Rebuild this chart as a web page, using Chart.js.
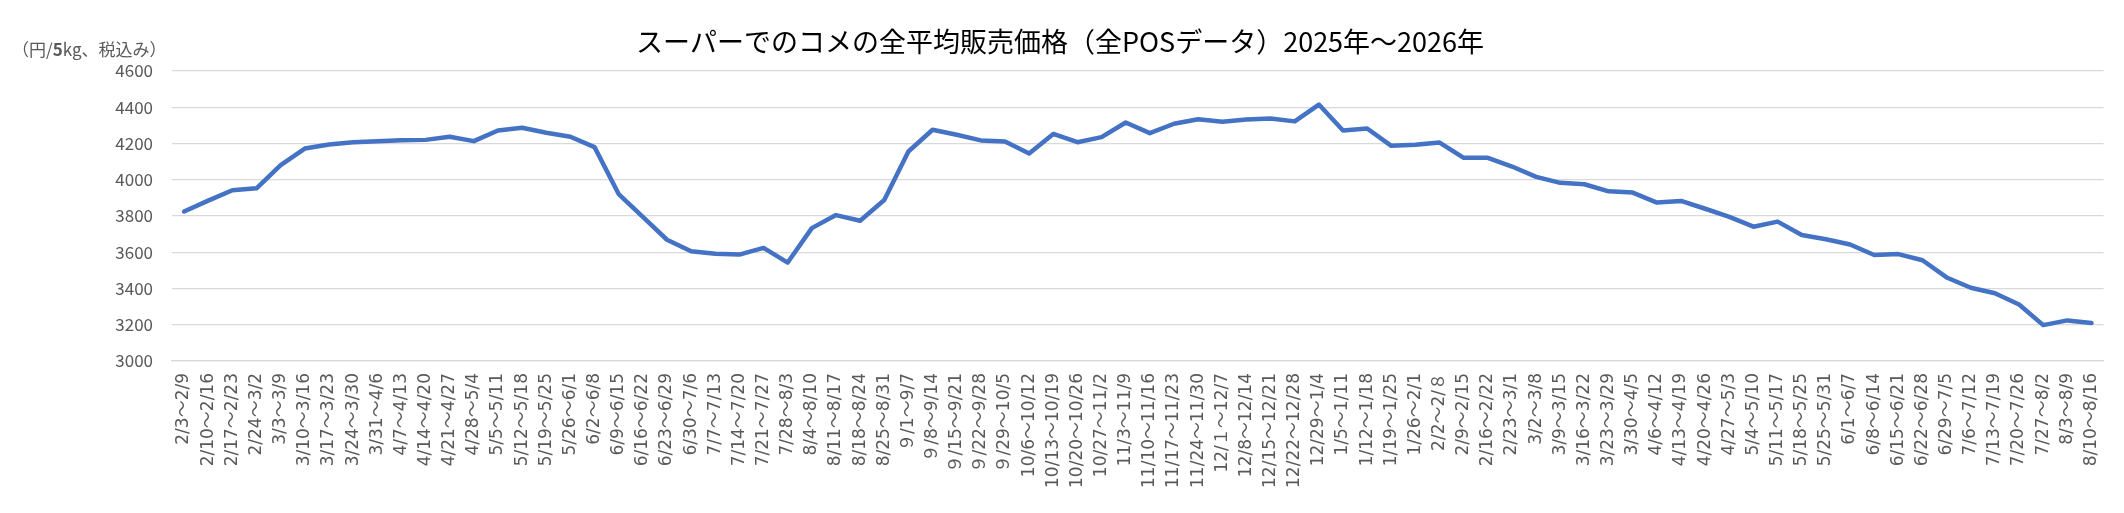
<!DOCTYPE html>
<html>
<head>
<meta charset="utf-8">
<script src="https://cdn.jsdelivr.net/npm/chart.js@4"></script>
<style>
  html, body { margin: 0; padding: 0; background: #ffffff; }
  #wrap { width: 2124px; height: 513px; }
</style>
</head>
<body>
<div id="wrap"><canvas id="c" width="2124" height="513"></canvas></div>
<script>
const titleText = 'スーパーでのコメの全平均販売価格（全POSデータ）2025年～2026年';
const unitParts = ['（円/', '5', 'kg、税込み）'];

const weeks = [
  '2/3～2/9','2/10～2/16','2/17～2/23','2/24～3/2','3/3～3/9','3/10～3/16','3/17～3/23','3/24～3/30',
  '3/31～4/6','4/7～4/13','4/14～4/20','4/21～4/27','4/28～5/4','5/5～5/11','5/12～5/18','5/19～5/25',
  '5/26～6/1','6/2～6/8','6/9～6/15','6/16～6/22','6/23～6/29','6/30～7/6','7/7～7/13','7/14～7/20',
  '7/21～7/27','7/28～8/3','8/4～8/10','8/11～8/17','8/18～8/24','8/25～8/31','９/1～9/7','９/8～9/14',
  '９/15～9/21','９/22～9/28','９/29～10/5','10/6～10/12','10/13～10/19','10/20～10/26','10/27～11/2','11/3～11/9',
  '11/10～11/16','11/17～11/23','11/24～11/30','12/１～12/7','12/8～12/14','12/15～12/21','12/22～12/28','12/29～1/4',
  '1/5～1/11','1/12～1/18','1/19～1/25','1/26～2/1','2/2～2/８','2/9～2/15','2/16～2/22','2/23～3/1',
  '3/2～3/8','3/9～3/15','3/16～3/22','3/23～3/29','3/30～4/5','4/6～4/12','4/13～4/19','4/20～4/26',
  '4/27～5/3','5/4～5/10','5/11～5/17','5/18～5/25','5/25～5/31','6/1～6/7','6/8～6/14','6/15～6/21',
  '6/22～6/28','6/29～7/5','7/6～7/12','7/13～7/19','7/20～7/26','7/27～8/2','8/3～8/9','8/10～8/16'
];

const prices = [
  3825, 3885, 3942, 3953, 4081, 4172, 4194, 4207,
  4213, 4218, 4220, 4237, 4213, 4272, 4287, 4259,
  4237, 4180, 3921, 3795, 3669, 3605, 3592, 3587,
  3624, 3543, 3733, 3805, 3774, 3888, 4156, 4276,
  4248, 4217, 4211, 4145, 4253, 4207, 4235, 4316,
  4257, 4309, 4334, 4320, 4333, 4338, 4322, 4415,
  4272, 4283, 4187, 4193, 4205, 4121, 4121, 4073,
  4016, 3983, 3975, 3936, 3929, 3874, 3883, 3840,
  3795, 3741, 3769, 3695, 3672, 3643, 3585, 3590,
  3556, 3461, 3404, 3374, 3312, 3198, 3224, 3210
];

const yMin = 3000, yMax = 4600, yStep = 200;

const FONT = '"Noto Sans CJK JP", "Noto Sans", sans-serif';
const LABEL_FONT = '"DejaVu Sans", "Noto Sans CJK JP", sans-serif';

const textPlugin = {
  id: 'textPlugin',
  afterDraw(chart) {
    const ctx = chart.ctx;
    ctx.save();
    ctx.fillStyle = '#000000';
    ctx.font = '27px ' + FONT;
    ctx.textAlign = 'center';
    ctx.textBaseline = 'middle';
    ctx.fillText(titleText, 1060, 42);
    ctx.fillStyle = '#595959';
    ctx.textAlign = 'left';
    let x = 12;
    const fonts = ['17px ' + FONT, 'bold 17px ' + FONT, '17px ' + FONT];
    unitParts.forEach((p, i) => {
      ctx.font = fonts[i];
      ctx.fillText(p, x, 50);
      x += ctx.measureText(p).width;
    });
    ctx.restore();
  }
};

new Chart(document.getElementById('c'), {
  type: 'line',
  data: {
    labels: weeks,
    datasets: [{
      data: prices,
      borderColor: '#4472C4',
      backgroundColor: '#4472C4',
      borderWidth: 4.5,
      pointRadius: 0,
      tension: 0,
      borderJoinStyle: 'round',
      borderCapStyle: 'round',
      fill: false
    }]
  },
  options: {
    responsive: false,
    animation: false,
    devicePixelRatio: 1,
    layout: { padding: { left: 0, right: 14, top: 71, bottom: 0 } },
    plugins: { legend: { display: false }, title: { display: false }, tooltip: { enabled: false } },
    scales: {
      x: {
        offset: true,
        grid: { display: false, drawTicks: false },
        border: { display: true, color: '#D9D9D9', width: 1.3 },
        ticks: {
          autoSkip: false,
          minRotation: 90,
          maxRotation: 90,
          padding: 12,
          color: '#595959',
          font: { family: LABEL_FONT, size: 17 }
        },
        afterFit(scale) { scale.height = 152; }
      },
      y: {
        min: yMin,
        max: yMax,
        grid: { color: '#D9D9D9', lineWidth: 1.3, drawTicks: false },
        border: { display: false },
        ticks: {
          stepSize: yStep,
          padding: 19,
          color: '#595959',
          font: { family: FONT, size: 17 },
          callback: (v) => String(v)
        },
        afterFit(scale) { scale.width = 172; }
      }
    }
  },
  plugins: [textPlugin]
});
</script>
</body>
</html>
